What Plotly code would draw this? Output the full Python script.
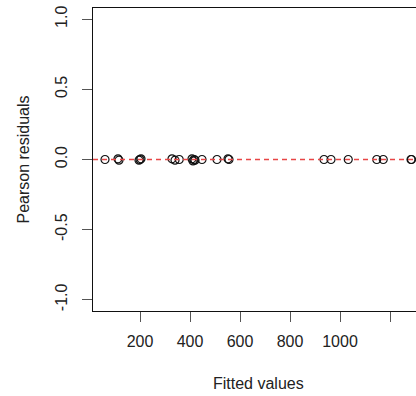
import plotly.graph_objects as go

fitted = [60, 112, 116, 196, 200, 204, 328, 340, 357, 408, 412, 416, 420, 448,
          508, 552, 556, 936, 964, 1033, 1147, 1173, 1284, 1286]
residuals = [0, 0.005, -0.005, -0.005, 0.0, 0.005, 0.005, -0.005, 0, 0.005, -0.01, 0,
             -0.005, 0, 0, 0.005, 0, 0, 0, 0, 0, 0, 0, 0]
x_ticks = [200, 400, 600, 800, 1000, 1200]
x_labels = ["200", "400", "600", "800", "1000", ""]
y_ticks = [-1.0, -0.5, 0.0, 0.5, 1.0]
y_labels = ["-1.0", "-0.5", "0.0", "0.5", "1.0"]

font = dict(family="Liberation Sans, Arial, sans-serif", size=16, color="#222")

fig = go.Figure()
fig.add_shape(type="line", xref="paper", yref="y", x0=0, x1=1, y0=0, y1=0,
              line=dict(color="rgb(232,70,70)", width=1.3, dash="5px,4px"), layer="above")
fig.add_trace(go.Scatter(
    x=fitted, y=residuals, mode="markers",
    marker=dict(symbol="circle-open", size=8, color="#111", line=dict(width=1.2, color="#111")),
    cliponaxis=False, showlegend=False))

fig.update_layout(
    width=416, height=396,
    margin=dict(l=93, r=0, t=8, b=85),
    plot_bgcolor="white", paper_bgcolor="white",
    font=font,
    xaxis=dict(range=[12, 1304], tickvals=x_ticks, ticktext=x_labels,
               showline=True, linecolor="#111", linewidth=1, mirror=True,
               ticks="outside", ticklen=10, tickcolor="#555", tickwidth=1,
               ticklabelstandoff=6,
               showgrid=False, zeroline=False, tickfont=font),
    yaxis=dict(range=[-1.08, 1.08], tickvals=y_ticks, ticktext=y_labels,
               showline=True, linecolor="#111", linewidth=1, mirror=False,
               ticks="outside", ticklen=10, tickcolor="#555", tickwidth=1,
               ticklabelstandoff=9,
               tickangle=-90, showgrid=False, zeroline=False, tickfont=font),
    annotations=[
        dict(text="Fitted values", xref="x", x=672, yref="paper", y=0, yshift=-72,
             showarrow=False, font=font, xanchor="center", yanchor="middle"),
        dict(text="Pearson residuals", xref="paper", x=0, xshift=-70, yref="paper", y=0.5,
             showarrow=False, font=font, textangle=-90, xanchor="center", yanchor="middle"),
    ],
)

fig.write_html("out.html")
